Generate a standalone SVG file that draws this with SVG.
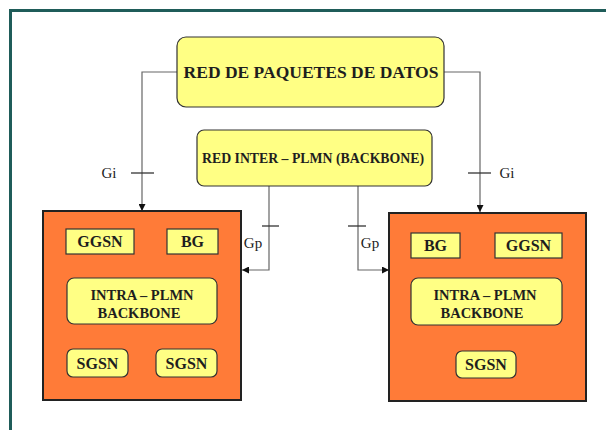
<svg xmlns="http://www.w3.org/2000/svg" width="606" height="430" viewBox="0 0 606 430">
  <style>
    .frame { fill: none; stroke: #1f5c59; stroke-width: 3; }
    .net { fill: #ff7b38; stroke: #222; stroke-width: 2; }
    .cloud { fill: #ffff84; stroke: #333; stroke-width: 1.2; }
    .unit { fill: #ffff84; stroke: #333; stroke-width: 1.2; }
    .link { fill: none; stroke: #666; stroke-width: 1.2; }
    .inner { fill: none; stroke: #3a2a20; stroke-width: 1.2; }
    .tick { fill: none; stroke: #333; stroke-width: 1.3; }
    .lbl { font-family: "Liberation Serif", "Times New Roman", serif; font-weight: bold; fill: #1e1e1e; text-anchor: middle; }
    .iface { font-family: "Liberation Serif", "Times New Roman", serif; font-size: 15px; fill: #222; text-anchor: middle; }
  </style>
  <defs>
    <marker id="tip" viewBox="0 0 8 8" refX="8" refY="4" markerWidth="7" markerHeight="7" markerUnits="userSpaceOnUse" orient="auto">
      <path d="M0,0 L8,4 L0,8 Z" fill="#111"/>
    </marker>
  </defs>

  <rect width="606" height="430" fill="#ffffff"/>
  <!-- page frame (runs off the right and bottom edges) -->
  <path class="frame" d="M10.5,432 V10.5 H608"/>

  <!-- connectors -->
  <g id="connectors">
    <!-- Gi, left -->
    <path class="link" d="M177,72 H142 V211" marker-end="url(#tip)"/>
    <path class="tick" d="M131,173 H154"/>
    <text class="iface" x="109" y="178">Gi</text>
    <!-- Gi, right -->
    <path class="link" d="M444,72 H480 V212" marker-end="url(#tip)"/>
    <path class="tick" d="M468,173 H491"/>
    <text class="iface" x="507" y="178">Gi</text>
    <!-- Gp, left -->
    <path class="link" d="M269,186 V270 H242" marker-end="url(#tip)"/>
    <path class="tick" d="M262,226 H279"/>
    <text class="iface" x="253" y="248">Gp</text>
    <!-- Gp, right -->
    <path class="link" d="M358,186 V270 H389" marker-end="url(#tip)"/>
    <path class="tick" d="M348,226 H366"/>
    <text class="iface" x="370" y="248">Gp</text>
    <!-- links inside the left PLMN -->
    <path class="inner" d="M99,254 V278 M191,254 V278 M97,324 V349 M186,324 V349"/>
    <!-- links inside the right PLMN -->
    <path class="inner" d="M460,246 H495 M437,258 V278 M530,258 V278 M485,325 V351"/>
  </g>

  <g id="red-paquetes-datos">
    <rect class="cloud" x="177" y="37" width="267" height="70" rx="9"/>
    <text class="lbl" x="311" y="78" font-size="17.5">RED DE PAQUETES DE DATOS</text>
  </g>

  <g id="red-inter-plmn">
    <rect class="cloud" x="197" y="130" width="235" height="56" rx="7"/>
    <text class="lbl" x="313" y="163" font-size="15" textLength="222" lengthAdjust="spacingAndGlyphs">RED INTER – PLMN (BACKBONE)</text>
  </g>

  <!-- left PLMN -->
  <g id="plmn-left">
    <rect class="net" x="43" y="211" width="198" height="189"/>
  </g>
  <g id="ggsn-left">
    <rect class="unit" x="66" y="229" width="68" height="25"/>
    <text class="lbl" x="100" y="247" font-size="16">GGSN</text>
  </g>
  <g id="bg-left">
    <rect class="unit" x="167" y="229" width="51" height="25"/>
    <text class="lbl" x="192.5" y="247" font-size="16">BG</text>
  </g>
  <g id="intra-left">
    <rect class="unit" x="67" y="278" width="150" height="46" rx="7"/>
    <text class="lbl" x="142" y="300" font-size="14.5">INTRA – PLMN</text>
    <text class="lbl" x="139" y="318" font-size="14.5">BACKBONE</text>
  </g>
  <g id="sgsn-left-1">
    <rect class="unit" x="67" y="349" width="61" height="28" rx="6"/>
    <text class="lbl" x="97.5" y="368.5" font-size="16">SGSN</text>
  </g>
  <g id="sgsn-left-2">
    <rect class="unit" x="156" y="349" width="61" height="28" rx="6"/>
    <text class="lbl" x="186.5" y="368.5" font-size="16">SGSN</text>
  </g>

  <!-- right PLMN -->
  <g id="plmn-right">
    <rect class="net" x="389" y="213" width="197" height="188"/>
  </g>
  <g id="bg-right">
    <rect class="unit" x="411" y="233" width="49" height="25"/>
    <text class="lbl" x="435.5" y="251" font-size="16">BG</text>
  </g>
  <g id="ggsn-right">
    <rect class="unit" x="495" y="233" width="67" height="25"/>
    <text class="lbl" x="528.5" y="251" font-size="16">GGSN</text>
  </g>
  <g id="intra-right">
    <rect class="unit" x="411" y="278" width="151" height="47" rx="7"/>
    <text class="lbl" x="485" y="300" font-size="14.5">INTRA – PLMN</text>
    <text class="lbl" x="482" y="318" font-size="14.5">BACKBONE</text>
  </g>
  <g id="sgsn-right">
    <rect class="unit" x="456" y="351" width="60" height="27" rx="6"/>
    <text class="lbl" x="486" y="370" font-size="16">SGSN</text>
  </g>
</svg>
